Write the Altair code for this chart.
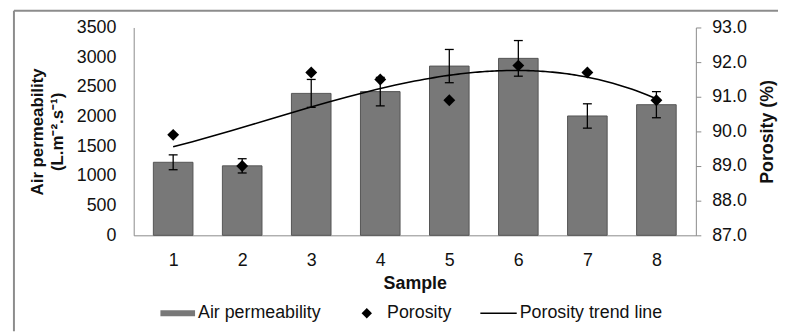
import altair as alt
import pandas as pd

samples = [1, 2, 3, 4, 5, 6, 7, 8]
air_permeability = [1230, 1170, 2390, 2420, 2850, 2980, 2010, 2200]
air_perm_error = [125, 120, 235, 240, 280, 300, 205, 220]
porosity = [89.9, 89.0, 91.7, 91.5, 90.9, 91.9, 91.7, 90.9]
legend_items = ["Air permeability", "Porosity", "Porosity trend line"]
left_ticks = [0, 500, 1000, 1500, 2000, 2500, 3000, 3500]
right_ticks = [87, 88, 89, 90, 91, 92, 93]

df = pd.DataFrame({
    "sample": samples,
    "air": air_permeability,
    "lo": [a - e for a, e in zip(air_permeability, air_perm_error)],
    "hi": [a + e for a, e in zip(air_permeability, air_perm_error)],
    "porosity": porosity,
    "series": ["Porosity"] * len(samples),
})
frame_df = pd.DataFrame({"k": [0]})

FONT = "Liberation Sans"
AXIS_GRAY = "#8a8a8a"

xscale = alt.Scale(domain=[0.5, 8.5], nice=False, zero=False)
yl_scale = alt.Scale(domain=[0, 3500], nice=False)
yr_scale = alt.Scale(domain=[87, 93], nice=False, zero=False)

x_axis = alt.Axis(values=samples, format="d", title="Sample", ticks=False, grid=False,
                  domainColor=AXIS_GRAY, labelFontSize=18, labelColor="#111",
                  labelPadding=16, titleFontSize=18, titleFontWeight="bold",
                  titleColor="#111", titlePadding=6)
left_axis = alt.Axis(values=left_ticks, format="d", title=["Air permeability", "(L.m⁻².s⁻¹)"],
                     ticks=False, grid=False, domainColor=AXIS_GRAY, labelFontSize=18,
                     labelColor="#111", labelPadding=18, titleFontSize=17,
                     titleFontWeight="bold", titleColor="#111", titleLineHeight=20,
                     titlePadding=10)
right_axis = alt.Axis(orient="right", values=right_ticks, format=".1f", title="Porosity (%)",
                      titleAngle=270, titleBaseline="top", ticks=True, tickSize=5,
                      tickColor=AXIS_GRAY, domainColor=AXIS_GRAY, grid=False, labelFontSize=18,
                      labelColor="#111", labelPadding=11, titleFontSize=18,
                      titleFontWeight="bold", titleColor="#111", titlePadding=12)

X = alt.X("sample:Q", scale=xscale, axis=x_axis)
base = alt.Chart(df)

bars = base.mark_bar(size=40, color="#787878", stroke="#555555", strokeWidth=1).encode(
    x=X,
    y=alt.Y("air:Q", scale=yl_scale, axis=left_axis),
)
err_rules = base.mark_rule(color="black", strokeWidth=1.3).encode(
    x=X,
    y=alt.Y("lo:Q", scale=yl_scale, axis=left_axis),
    y2="hi:Q",
)
cap_lo = base.mark_tick(orient="horizontal", size=9, thickness=1.3, color="black", opacity=1).encode(
    x=X,
    y=alt.Y("lo:Q", scale=yl_scale, axis=left_axis),
)
cap_hi = base.mark_tick(orient="horizontal", size=9, thickness=1.3, color="black", opacity=1).encode(
    x=X,
    y=alt.Y("hi:Q", scale=yl_scale, axis=left_axis),
)
left_group = alt.layer(bars, err_rules, cap_lo, cap_hi)

trend = base.transform_regression("sample", "porosity", method="poly", order=3).mark_line(
    color="black", strokeWidth=1.6).encode(
    x=X,
    y=alt.Y("porosity:Q", scale=yr_scale, axis=right_axis),
)

shape_paths = [
    "M-1,-0.17L1,-0.17L1,0.17L-1,0.17Z",
    "M0,-0.3L0.3,0L0,0.3L-0.3,0Z",
    "M-1.1,-0.04L1,-0.04L1,0.04L-1.1,0.04Z",
]
legend = alt.Legend(title=None, orient="none", legendX=27, legendY=271, direction="horizontal",
                    symbolSize=1225, symbolStrokeWidth=0, labelFontSize=18, labelColor="#111",
                    labelFont=FONT, labelOffset=3, columnPadding=28)
points = base.mark_point(filled=True, opacity=1, size=1600, strokeWidth=0).encode(
    x=X,
    y=alt.Y("porosity:Q", scale=yr_scale, axis=right_axis),
    fill=alt.Fill("series:N", scale=alt.Scale(domain=legend_items,
                  range=["#787878", "#000000", "#000000"]), legend=legend),
    shape=alt.Shape("series:N", scale=alt.Scale(domain=legend_items, range=shape_paths),
                    legend=legend),
)
right_group = alt.layer(trend, points)

frame_left = alt.Chart(frame_df).mark_rule(color="#8c8c8c", strokeWidth=2).encode(
    x=alt.value(-121), y=alt.value(-17), y2=alt.value(307),
)
frame_top = alt.Chart(frame_df).mark_rule(color="#8c8c8c", strokeWidth=2).encode(
    x=alt.value(-121), x2=alt.value(651), y=alt.value(-17),
)

chart = alt.layer(left_group, right_group, frame_left, frame_top).resolve_scale(
    y="independent"
).properties(
    width=568, height=210,
    padding={"left": 127, "top": 18, "right": 84, "bottom": 98},
    autosize=alt.AutoSizeParams(type="none"),
).configure(font=FONT).configure_view(strokeWidth=0)

chart.save("out.html", embed_options={"renderer": "svg", "actions": False})
